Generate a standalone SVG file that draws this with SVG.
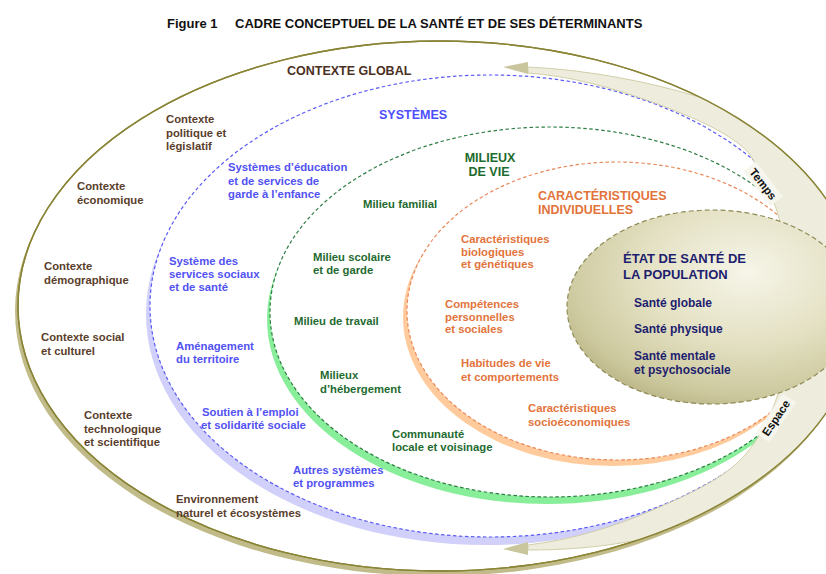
<svg xmlns="http://www.w3.org/2000/svg" width="826" height="574" viewBox="0 0 826 574">
<defs>
<style>
text{font-family:"Liberation Sans",Arial,Helvetica,sans-serif;font-weight:bold}
.br{fill:#5a3e2b;font-size:11.3px}
.bl{fill:#5252f2;font-size:11.3px}
.gr{fill:#1f6b30;font-size:11.3px}
.or{fill:#e2743c;font-size:11.3px}
.nv{fill:#1e1e6e}
.h{font-size:12.5px}
.ring{fill:#fff;stroke-width:1.2;stroke-dasharray:3.5 2.5}
.band{fill:#eeeddd;stroke:#d2cfaa;stroke-width:1}
.head{fill:#c9c69e}
.lab{fill:#111;font-size:11.5px}
</style>
<radialGradient id="etat" cx="0.62" cy="0.32" r="0.75">
<stop offset="0" stop-color="#f6f5e8"/>
<stop offset="0.5" stop-color="#e3e0c2"/>
<stop offset="0.85" stop-color="#ccc89d"/>
<stop offset="1" stop-color="#b7b283"/>
</radialGradient>
</defs>
<rect width="826" height="574" fill="#fff"/>

<g id="title">
<text x="167" y="27.5" font-size="13" fill="#111">Figure 1</text>
<text x="235" y="27.5" font-size="13" fill="#111">CADRE CONCEPTUEL DE LA SANTÉ ET DE SES DÉTERMINANTS</text>
</g>

<g id="contexte-global">
<ellipse cx="437" cy="311" rx="422" ry="265" fill="#c0bb88"/>
<ellipse cx="440" cy="306" rx="422" ry="265" fill="#fff" stroke="#8a8436" stroke-width="1.4"/>
</g>

<g id="systemes">
<ellipse cx="486" cy="314" rx="340" ry="231" fill="#d0d0fb"/>
<ellipse class="ring" cx="490" cy="306" rx="340" ry="231" stroke="#5a5af5"/>
</g>

<g id="milieux-de-vie">
<ellipse cx="547" cy="319" rx="280" ry="185" fill="#88ee9a"/>
<ellipse class="ring" cx="550" cy="312" rx="280" ry="185" stroke="#2e7d44"/>
</g>

<g id="caracteristiques-individuelles">
<ellipse cx="613" cy="317" rx="210" ry="149" fill="#ffcb9c"/>
<ellipse class="ring" cx="617" cy="311" rx="210" ry="149" stroke="#e8895a"/>
</g>

<g id="connectors">
<path class="band" d="M528,67 C590,70 650,82 700,97.3 A422 265 0 0 1 640,539.4 C600,548 560,550 528,550 L528,545 C570,540 615,527 655,509 C690,494 725,478 745,455 C775,420 790,370 790,305 C790,240 775,190 748,152 C728,132 695,118 655,103 C610,87 570,76 528,73 Z"/>
<ellipse cx="440" cy="306" rx="422" ry="265" fill="none" stroke="#8a8436" stroke-width="1.4"/>
<polygon class="head" points="503,67 528,62 528,74"/>
<polygon class="head" points="503,549 528,542 528,555"/>
<g id="temps" transform="translate(763,184) rotate(52)">
<rect x="-22" y="-8" width="44" height="16" fill="#f6f6ee"/>
<text class="lab" x="0" y="4" text-anchor="middle">Temps</text>
</g>
<g id="espace" transform="translate(776,418) rotate(-56)">
<rect x="-24" y="-8" width="48" height="16" fill="#f6f6ee"/>
<text class="lab" x="0" y="4" text-anchor="middle">Espace</text>
</g>
</g>

<g id="etat-de-sante">
<ellipse cx="712" cy="307" rx="145" ry="97" fill="url(#etat)" stroke="#8e8a55" stroke-width="1.2" stroke-dasharray="5 3"/>
<text class="nv" font-size="13"><tspan x="623" y="263">ÉTAT DE SANTÉ DE</tspan><tspan x="623" y="279">LA POPULATION</tspan></text>
<text class="nv" font-size="12" x="634" y="307">Santé globale</text>
<text class="nv" font-size="12" x="634" y="333">Santé physique</text>
<text class="nv" font-size="12"><tspan x="634" y="360">Santé mentale</tspan><tspan x="634" y="374">et psychosociale</tspan></text>
</g>

<g id="labels-contexte">
<text class="h" x="287" y="75" fill="#4b2f1f">CONTEXTE GLOBAL</text>
<text class="br"><tspan x="166" y="123">Contexte</tspan><tspan x="166" y="136.5">politique et</tspan><tspan x="166" y="150">législatif</tspan></text>
<text class="br"><tspan x="77" y="190">Contexte</tspan><tspan x="77" y="204">économique</tspan></text>
<text class="br"><tspan x="44" y="270">Contexte</tspan><tspan x="44" y="283.5">démographique</tspan></text>
<text class="br"><tspan x="41" y="341">Contexte social</tspan><tspan x="41" y="354.5">et culturel</tspan></text>
<text class="br"><tspan x="84" y="419">Contexte</tspan><tspan x="84" y="432.5">technologique</tspan><tspan x="84" y="446">et scientifique</tspan></text>
<text class="br"><tspan x="176" y="503">Environnement</tspan><tspan x="176" y="517">naturel et écosystèmes</tspan></text>
</g>

<g id="labels-systemes">
<text class="h" x="379" y="119" fill="#4d4dff">SYSTÈMES</text>
<text class="bl"><tspan x="228" y="171">Systèmes d’éducation</tspan><tspan x="228" y="185">et de services de</tspan><tspan x="228" y="198">garde à l’enfance</tspan></text>
<text class="bl"><tspan x="169" y="265">Système des</tspan><tspan x="169" y="278">services sociaux</tspan><tspan x="169" y="291">et de santé</tspan></text>
<text class="bl"><tspan x="176" y="350">Aménagement</tspan><tspan x="176" y="363">du territoire</tspan></text>
<text class="bl"><tspan x="202" y="416">Soutien à l’emploi</tspan><tspan x="201" y="429">et solidarité sociale</tspan></text>
<text class="bl"><tspan x="293" y="474">Autres systèmes</tspan><tspan x="293" y="487">et programmes</tspan></text>
</g>

<g id="labels-milieux">
<text class="h" fill="#1d6b2d" text-anchor="middle"><tspan x="490" y="162">MILIEUX</tspan><tspan x="489" y="176">DE VIE</tspan></text>
<text class="gr" x="363" y="208">Milieu familial</text>
<text class="gr"><tspan x="313" y="261">Milieu scolaire</tspan><tspan x="313" y="274">et de garde</tspan></text>
<text class="gr" x="294" y="325">Milieu de travail</text>
<text class="gr"><tspan x="320" y="379">Milieux</tspan><tspan x="320" y="393">d’hébergement</tspan></text>
<text class="gr"><tspan x="392" y="438">Communauté</tspan><tspan x="392" y="451">locale et voisinage</tspan></text>
</g>

<g id="labels-caracteristiques">
<text class="h" fill="#e2733a"><tspan x="538" y="200">CARACTÉRISTIQUES</tspan><tspan x="538" y="214">INDIVIDUELLES</tspan></text>
<text class="or"><tspan x="461" y="243">Caractéristiques</tspan><tspan x="461" y="256">biologiques</tspan><tspan x="461" y="268">et génétiques</tspan></text>
<text class="or"><tspan x="445" y="308">Compétences</tspan><tspan x="445" y="321">personnelles</tspan><tspan x="445" y="333">et sociales</tspan></text>
<text class="or"><tspan x="461" y="367">Habitudes de vie</tspan><tspan x="461" y="381">et comportements</tspan></text>
<text class="or"><tspan x="528" y="412">Caractéristiques</tspan><tspan x="528" y="426">socioéconomiques</tspan></text>
</g>
</svg>
